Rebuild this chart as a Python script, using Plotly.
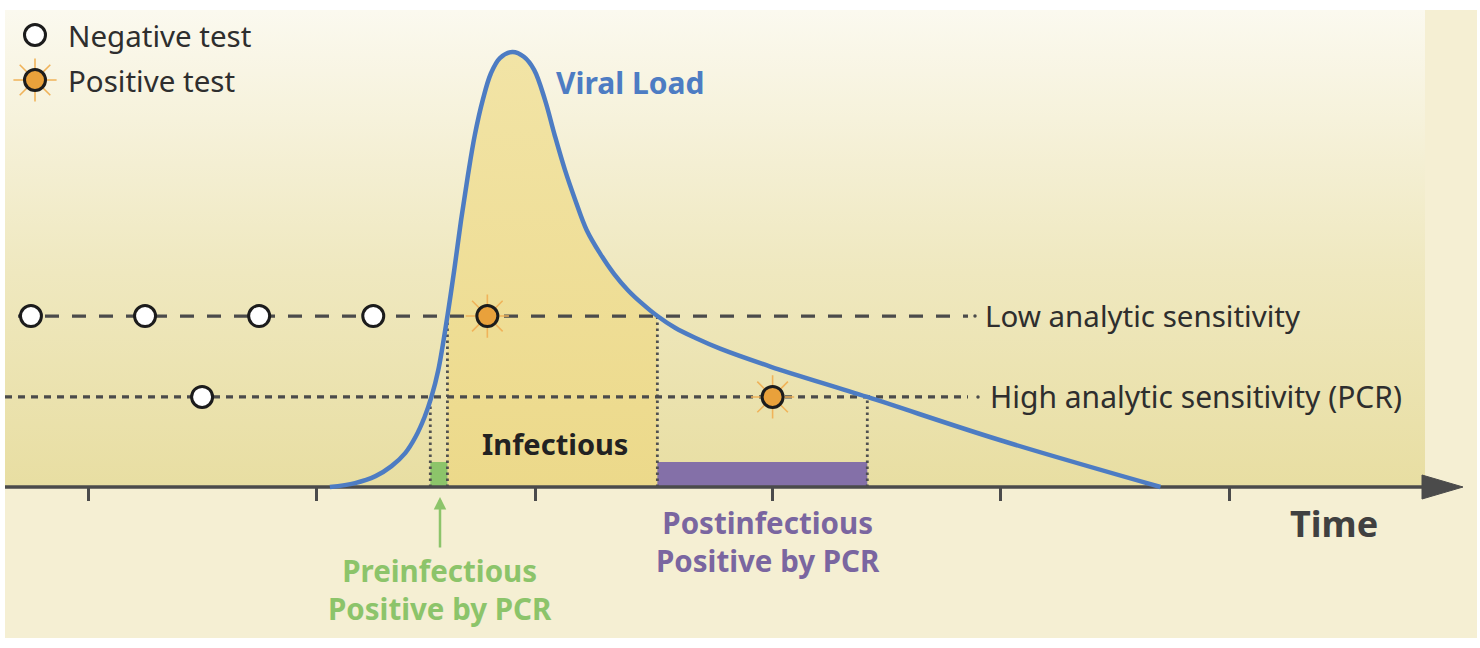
import plotly.graph_objects as go

# ---------------- data (time in days, viral load in arbitrary units) ----------------
curve_time = [2.12, 2.34, 2.52, 2.66, 2.78, 2.87, 2.95, 3.01, 3.07, 3.15, 3.21, 3.27,
              3.33, 3.39, 3.46, 3.53, 3.61, 3.72, 3.82, 3.91, 4.005, 4.09, 4.18, 4.27,
              4.37, 4.49, 4.61, 4.73, 4.855, 4.99, 5.145, 5.32, 5.54, 5.98, 6.83, 7.99,
              9.40]
curve_load = [0.0, 0.09, 0.25, 0.48, 0.78, 1.15, 1.61, 2.07, 2.69, 3.93, 4.99, 6.14,
              7.17, 8.09, 8.90, 9.50, 9.86, 10.0, 9.89, 9.59, 8.90, 8.09, 7.29, 6.60,
              5.91, 5.36, 4.90, 4.53, 4.22, 3.93, 3.66, 3.43, 3.18, 2.77, 2.07, 1.08,
              0.0]

low_threshold = 3.93      # low analytic sensitivity
high_threshold = 2.07     # high analytic sensitivity (PCR)

low_neg_tests = [-0.5, 0.5, 1.5, 2.5]
low_pos_tests = [3.5]
high_neg_tests = [1.0]
high_pos_tests = [6.0]

pre_period = [3.00, 3.15]
infectious_period = [3.15, 4.99]
post_period = [4.99, 6.83]
period_bar_height = 0.575

tick_times = [0, 2, 3.92, 6, 8, 10]

# ---------------- styling ----------------
W, H = 1480, 648
X0, XS = 88, 114.1       # pixel of t=0, pixels per day
Y0, YS = 487, 43.5       # pixel of load=0, pixels per unit
def tx(px): return (px - X0) / XS
def vy(py): return (Y0 - py) / YS

DARK = "#4b4b4b"
TXT = "#2e2e2e"
BLUE = "#4d7cc3"
ORANGE = "#e9a13b"
RAY = "#f0b35a"
GREEN = "#8cc46a"
PURPLE = "#8470a8"
PURPLE_TXT = "#7a66a0"
FONT = "Noto Sans"

fig = go.Figure()

# gradient panel
gx0, gx1, gy1 = tx(5), tx(1425), vy(10)
fig.add_trace(go.Scatter(
    x=[gx0, gx1, gx1, gx0, gx0], y=[0, 0, gy1, gy1, 0], mode="lines",
    line=dict(width=0), fill="toself",
    fillgradient=dict(type="vertical",
                      colorscale=[[0, "#e8dea2"], [0.45, "#efe8bf"], [1, "#fbf9ef"]]),
    hoverinfo="skip", showlegend=False))

# infectious area under the curve
inf_t = [t for t in curve_time if infectious_period[0] <= t <= infectious_period[1]]
inf_v = [v for t, v in zip(curve_time, curve_load) if infectious_period[0] <= t <= infectious_period[1]]
fig.add_trace(go.Scatter(
    x=inf_t, y=inf_v, mode="lines", line=dict(width=0, shape="spline", smoothing=1.0),
    fill="tozeroy",
    fillgradient=dict(type="vertical",
                      colorscale=[[0, "#ecd98a"], [1, "#f2e4a6"]]),
    hoverinfo="skip", showlegend=False))

# period bars (filled rectangles on the data axes)
def period_rect(period, color):
    a, b = period
    fig.add_trace(go.Scatter(x=[a, b, b, a, a],
                             y=[0, 0, period_bar_height, period_bar_height, 0],
                             mode="lines", line=dict(width=0), fill="toself", fillcolor=color,
                             hoverinfo="skip", showlegend=False))
period_rect(pre_period, GREEN)
period_rect(post_period, PURPLE)

# vertical dotted guides
vx, vyv = [], []
for t, lvl in [(pre_period[0], high_threshold), (pre_period[1], low_threshold),
               (post_period[0], low_threshold), (post_period[1], high_threshold)]:
    vx += [t, t, None]
    vyv += [0, lvl, None]
fig.add_trace(go.Scatter(x=vx, y=vyv, mode="lines",
                         line=dict(color="#505050", width=2.8, dash="2.5px,3.5px"),
                         hoverinfo="skip", showlegend=False))

# threshold lines
line_end = tx(968)
fig.add_trace(go.Scatter(x=[tx(18), line_end], y=[low_threshold] * 2, mode="lines",
                         line=dict(color=DARK, width=3.2, dash="14px,13px"),
                         hoverinfo="skip", showlegend=False))
fig.add_trace(go.Scatter(x=[tx(5), line_end], y=[high_threshold] * 2, mode="lines",
                         line=dict(color=DARK, width=3.2, dash="7px,6px"),
                         hoverinfo="skip", showlegend=False))
fig.add_trace(go.Scatter(x=[tx(975), tx(978)], y=[low_threshold, high_threshold], mode="markers",
                         marker=dict(color=DARK, size=3.5), hoverinfo="skip", showlegend=False))

# time axis line + arrow head
fig.add_trace(go.Scatter(x=[tx(5), tx(1430)], y=[0, 0], mode="lines",
                         line=dict(color=DARK, width=3.5), hoverinfo="skip", showlegend=False))
ah = 12 / YS
fig.add_trace(go.Scatter(x=[tx(1422), tx(1463), tx(1422), tx(1422)], y=[ah, 0, -ah, ah],
                         mode="lines", line=dict(color=DARK, width=1), fill="toself",
                         fillcolor=DARK, hoverinfo="skip", showlegend=False))

# viral load curve
fig.add_trace(go.Scatter(x=curve_time, y=curve_load, mode="lines",
                         line=dict(color=BLUE, width=4.5, shape="spline", smoothing=1.0),
                         hoverinfo="skip", showlegend=False))

# test markers
def neg(xs, ys):
    fig.add_trace(go.Scatter(x=xs, y=ys, mode="markers", cliponaxis=False,
                             marker=dict(symbol="circle", size=21, color="white",
                                         line=dict(color="#1c1c1c", width=3)),
                             hoverinfo="skip", showlegend=False))
def pos(xs, ys):
    fig.add_trace(go.Scatter(x=xs, y=ys, mode="markers", cliponaxis=False,
                             marker=dict(symbol="asterisk-open", size=36, color=RAY,
                                         line=dict(color=RAY, width=1.6)),
                             hoverinfo="skip", showlegend=False))
    fig.add_trace(go.Scatter(x=xs, y=ys, mode="markers", cliponaxis=False,
                             marker=dict(symbol="circle", size=21, color=ORANGE,
                                         line=dict(color="#1c1c1c", width=3)),
                             hoverinfo="skip", showlegend=False))

neg(low_neg_tests, [low_threshold] * len(low_neg_tests))
neg(high_neg_tests, [high_threshold] * len(high_neg_tests))
pos(low_pos_tests, [low_threshold] * len(low_pos_tests))
pos(high_pos_tests, [high_threshold] * len(high_pos_tests))
# legend symbols
neg([tx(35)], [vy(35)])
pos([tx(35)], [vy(80)])

def ann(text, px, py, size, color=TXT, bold=False, xanchor="left"):
    if bold:
        text = "<b>" + text + "</b>"
    fig.add_annotation(x=px / W, y=1 - py / H, xref="paper", yref="paper", text=text,
                       showarrow=False, xanchor=xanchor, yanchor="middle",
                       font=dict(family=FONT, size=size, color=color))

ann("Negative test", 66, 35, 29.5)
ann("Positive test", 66, 80, 29.5)
ann("Viral Load", 554, 82, 30, BLUE, True)
ann("Low analytic sensitivity", 983, 316, 29.5)
ann("High analytic sensitivity (PCR)", 988, 397, 30)
ann("Infectious", 555, 443, 29, "#222222", True, "center")
ann("Time", 1334, 523, 36, "#404040", True, "center")
ann("Postinfectious<br>Positive by PCR", 768, 541, 29.5, PURPLE_TXT, True, "center")
ann("Preinfectious<br>Positive by PCR", 440, 589, 29.5, GREEN, True, "center")

# green arrow
fig.add_annotation(x=tx(440), y=vy(497), ax=tx(440), ay=vy(549), xref="x", yref="y",
                   axref="x", ayref="y", text="", showarrow=True, arrowhead=2,
                   arrowsize=1, arrowwidth=2.5, arrowcolor=GREEN)

fig.update_layout(
    width=W, height=H, margin=dict(l=0, r=0, t=0, b=0, pad=0),
    paper_bgcolor="white", plot_bgcolor="rgba(0,0,0,0)",
    showlegend=False,
    xaxis=dict(range=[tx(0), tx(W)], showgrid=False, zeroline=False, showline=False,
               showticklabels=False, ticks="outside", tickvals=tick_times, ticklen=13,
               tickwidth=2.5, tickcolor=DARK, anchor="free", position=1 - Y0 / H,
               fixedrange=True),
    yaxis=dict(range=[vy(H), vy(0)], visible=False, fixedrange=True),
    shapes=[dict(type="rect", xref="paper", yref="paper", x0=5 / W, x1=1477 / W,
                 y0=1 - 638 / H, y1=1 - 10 / H, fillcolor="#f5efd3",
                 line=dict(width=0), layer="below")],
)

fig.write_html("out.html", config={"displayModeBar": False},
               post_script="document.body.style.margin='0';")
